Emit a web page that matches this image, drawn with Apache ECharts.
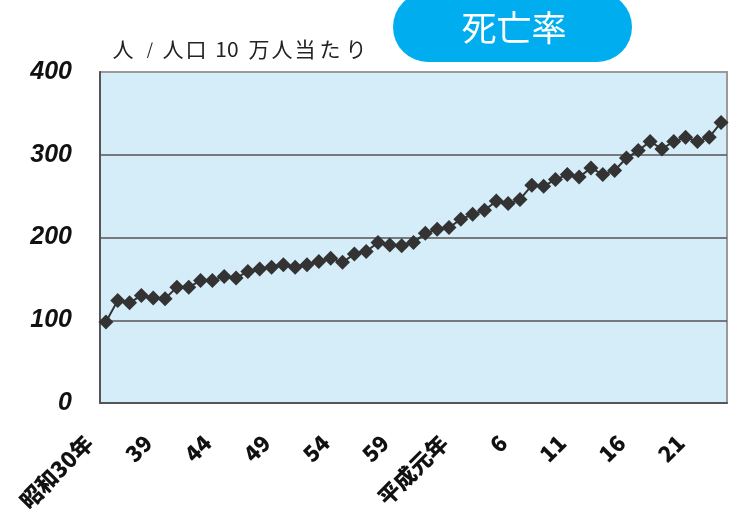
<!DOCTYPE html>
<html>
<head>
<meta charset="utf-8">
<script src="https://cdn.jsdelivr.net/npm/echarts@6/dist/echarts.min.js"></script>
<style>
  html, body { margin: 0; padding: 0; background: #fff; }
  #chart { width: 736px; height: 511px; }
</style>
</head>
<body>
<div id="chart"></div>
<script>
// 年次（昭和30年の次は35年から毎年）
var years = ['昭和30年', '35', '36', '37', '38', '39', '40', '41', '42', '43', '44', '45', '46', '47', '48',
  '49', '50', '51', '52', '53', '54', '55', '56', '57', '58', '59', '60', '61', '62', '63',
  '平成元年', '2', '3', '4', '5', '6', '7', '8', '9', '10', '11', '12', '13', '14', '15',
  '16', '17', '18', '19', '20', '21', '22', '23'];

// 死亡率（人口10万人当たり）
var deathRate = [98, 124, 121, 130, 127, 126, 140, 140, 148, 148, 153, 151, 159, 162, 164,
  167, 164, 167, 171, 175, 170, 180, 183, 194, 191, 190, 194, 205, 210, 212,
  222, 228, 233, 244, 241, 246, 263, 262, 270, 276, 273, 284, 276, 281, 296,
  305, 316, 307, 316, 321, 316, 321, 339];

var yTicks = [0, 100, 200, 300, 400];

// 単位の文字（字間が広いので一文字ずつ置く）
var unitChars = ['人', '/', '人', '口', '10', '万', '人', '当', 'た', 'り'];
var unitX = [123, 150, 173, 196, 227, 259, 282, 305, 330, 356];

var chart = echarts.init(document.getElementById('chart'), null, { renderer: 'canvas' });

var graphics = [
  {
    type: 'rect',
    shape: { x: 393, y: -8, width: 239, height: 70, r: 35 },
    style: { fill: '#00aeef' }
  },
  {
    type: 'text',
    x: 514,
    y: 28,
    style: {
      text: '死亡率',
      fill: '#fff',
      font: '35px "Noto Sans CJK JP"',
      align: 'center',
      verticalAlign: 'middle'
    }
  }
];
unitChars.forEach(function (c, i) {
  graphics.push({
    type: 'text',
    x: unitX[i],
    y: 49,
    style: {
      text: c,
      fill: '#222',
      font: (c === '/' ? '16px' : '21px') + ' "Noto Sans CJK JP"',
      align: 'center',
      verticalAlign: 'middle'
    }
  });
});

var option = {
  animation: false,
  grid: {
    left: 100,
    right: 9,
    top: 72,
    bottom: 108,
    outerBoundsMode: 'none',
    containLabel: false,
    show: true,
    backgroundColor: '#d5ecf9',
    borderColor: '#9a9a9a',
    borderWidth: 2
  },
  graphic: graphics,
  xAxis: {
    type: 'category',
    data: years,
    boundaryGap: true,
    axisLine: { lineStyle: { color: '#555', width: 2 } },
    axisTick: { inside: true, length: 5, interval: 1, lineStyle: { color: '#444', width: 1 } },
    axisLabel: {
      interval: 4,
      rotate: 45,
      margin: 19,
      padding: [0, 24, 0, 0],
      color: '#111',
      fontSize: 22,
      fontWeight: 900,
      fontFamily: '"Noto Sans CJK JP", sans-serif'
    },
    splitLine: { show: false }
  },
  yAxis: {
    type: 'value',
    min: yTicks[0],
    max: yTicks[yTicks.length - 1],
    interval: 100,
    axisLine: { show: true, lineStyle: { color: '#555', width: 2 } },
    axisTick: { show: false },
    axisLabel: {
      margin: 28,
      color: '#111',
      fontSize: 25,
      fontWeight: 'bold',
      fontStyle: 'italic',
      fontFamily: '"Liberation Sans", Arial, sans-serif'
    },
    splitLine: { lineStyle: { color: ['#555', '#555', '#555', '#555', '#9a9a9a'], width: 1.5 } }
  },
  series: [{
    type: 'line',
    data: deathRate,
    showAllSymbol: true,
    symbol: 'diamond',
    symbolSize: 15,
    itemStyle: { color: '#333' },
    lineStyle: { color: '#333', width: 2 }
  }]
};

chart.setOption(option);
</script>
</body>
</html>
